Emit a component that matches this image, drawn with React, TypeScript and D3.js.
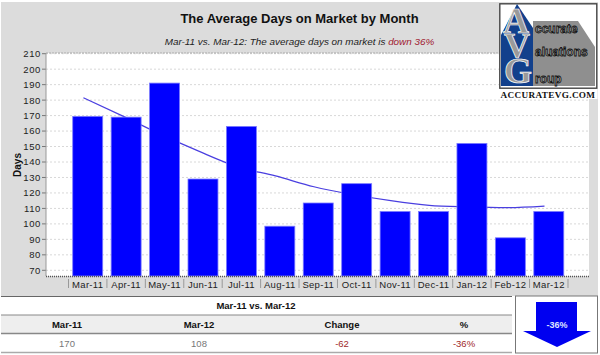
import React from "react";
import * as d3 from "d3";

const months = ["Mar-11","Apr-11","May-11","Jun-11","Jul-11","Aug-11","Sep-11","Oct-11","Nov-11","Dec-11","Jan-12","Feb-12","Mar-12"];
const days = [169.5,169,191,129,163,98.5,113.5,126,108,108,152,91,108];
const trend = [181.5,170,158,147,137,131,124,119,115,112,111,110.5,111.5];
const yTicks = [70,80,90,100,110,120,130,140,150,160,170,180,190,200,210];
const tableHeaders = ["Mar-11","Mar-12","Change","%"];
const tableValues = ["170","108","-62","-36%"];

const SANS = "'Liberation Sans', Arial, sans-serif";
const SERIF = "'Liberation Serif', serif";
const plot = { l: 46, r: 589, t: 53, b: 276 };

export default function App() {
  const x = d3.scaleBand<string>().domain(months).range([68.5, 568]).paddingInner(0.22).paddingOuter(0.11);
  const y = d3.scaleLinear().domain([70, 210]).range([270.3, 53.7]);
  const lineOffset = -4.3;
  const line = d3.line<number>()
    .x((_, i) => x(months[i])! + x.bandwidth() / 2 + lineOffset)
    .y(d => y(d))
    .curve(d3.curveMonotoneX);
  const step = x.step();
  const seps = d3.range(months.length + 1).map(i => 68.5 + i * step);
  const colX = [67, 199, 342, 464];
  const colColor = ["#777", "#777", "#a02828", "#a02828"];

  return (
    <svg width={600} height={355} style={{ position: "fixed", left: 0, top: 0, background: "#fff" }} fontFamily={SANS}>
      <rect x={1} y={2} width={597} height={294} fill="#dcdcdc" />
      <text x={299.5} y={23} textAnchor="middle" fontSize={13} fontWeight="bold" fill="#111">The Average Days on Market by Month</text>
      <text x={299.5} y={44.5} textAnchor="middle" fontSize={9.9} fontStyle="italic" fill="#222">
        Mar-11 vs. Mar-12: The average days on market is <tspan fill="#a02030">down 36%</tspan>
      </text>

      <rect x={plot.l} y={plot.t} width={plot.r - plot.l} height={plot.b - plot.t} fill="#fff" />
      {yTicks.map(t => (
        <g key={t}>
          <line x1={plot.l} x2={plot.r} y1={y(t)} y2={y(t)} stroke="#d8d8d8" strokeWidth={1} strokeDasharray="2 2" />
          <line x1={42} x2={46} y1={y(t)} y2={y(t)} stroke="#777" />
          <text x={41} y={y(t) + 3.4} textAnchor="end" fontSize={9.5} letterSpacing={0.6} fill="#222">{t}</text>
        </g>
      ))}
      <line x1={plot.l} x2={plot.r} y1={plot.t} y2={plot.t} stroke="#aaa" strokeDasharray="2 1" />
      <line x1={plot.l} x2={plot.l} y1={plot.t} y2={plot.b} stroke="#999" />
      <text transform={`translate(21,165) rotate(-90)`} textAnchor="middle" fontSize={10} fontWeight="bold" fill="#111">Days</text>

      <path d={line(trend) ?? ""} fill="none" stroke="#4a3fe0" strokeWidth={1.2} />
      {months.map((m, i) => (
        <rect key={i} x={x(m)} y={y(days[i])} width={x.bandwidth()} height={plot.b - y(days[i])} fill="#0000ff" stroke="#7a7aff" strokeWidth={0.8} />
      ))}
      <line x1={plot.l} x2={plot.r} y1={plot.b + 0.5} y2={plot.b + 0.5} stroke="#555" strokeWidth={1.4} strokeDasharray="1 1" />
      {seps.map((s, i) => <line key={i} x1={s} x2={s} y1={279} y2={288} stroke="#999" />)}
      {months.map(m => (
        <text key={m} x={x(m)! + x.bandwidth() / 2} y={288} textAnchor="middle" fontSize={9.5} letterSpacing={0.3} fill="#222">{m}</text>
      ))}

      <rect x={0} y={296} width={600} height={59} fill="#fff" />
      <rect x={1} y={315} width={511} height={18} fill="#eeeeee" />
      <line x1={1} x2={512} y1={296.5} y2={296.5} stroke="#666" strokeWidth={1} />
      <line x1={1} x2={512} y1={315} y2={315} stroke="#888" strokeWidth={1} />
      <line x1={1} x2={512} y1={333.5} y2={333.5} stroke="#888" strokeWidth={1.4} />
      <line x1={1} x2={512} y1={352.5} y2={352.5} stroke="#aaa" strokeWidth={1.4} />
      <text x={256} y={309} textAnchor="middle" fontSize={9.5} fontWeight="bold" fill="#111">Mar-11 vs. Mar-12</text>
      {tableHeaders.map((h, i) => (
        <text key={h + i} x={colX[i]} y={328} textAnchor="middle" fontSize={9.5} fontWeight="bold" fill="#111">{h}</text>
      ))}
      {tableValues.map((v, i) => (
        <text key={v + i} x={colX[i]} y={347} textAnchor="middle" fontSize={9.5} fill={colColor[i]}>{v}</text>
      ))}

      <rect x={515.5} y={296} width={82} height={57} fill="#fff" stroke="#777" />
      <polygon points="536,302 577,302 577,331 591,331 557,347 523,331 536,331" fill="#0000f0" />
      <text x={557} y={328} textAnchor="middle" fontSize={9} fontWeight="bold" fill="#dfe4ff">-36%</text>

      <rect x={499} y={3} width={98.5} height={96} fill="#fff" />
      <rect x={499.8} y={3.8} width={97} height={84.4} fill="#fff" stroke="#444" strokeWidth={1.4} />
      <polygon points="533,21 578,21 595,47 595,86 533,86" fill="#8f8f8f" />
      <polygon points="501,86 501,35 517,4 533,28 533,86" fill="#12408c" />
      <g fontFamily={SERIF} fontWeight="bold" fill="#9a9a9a" stroke="#fff" strokeWidth={0.7} textAnchor="middle">
        <text x={516} y={33} fontSize={36}>A</text>
        <text x={517} y={58} fontSize={36}>V</text>
        <text x={518} y={83} fontSize={36}>G</text>
      </g>
      <g fontFamily={SANS} fontWeight="bold" fontSize={12} fill="#aaa" stroke="#111" strokeWidth={0.8}>
        <text x={535} y={33}>ccurate</text>
        <text x={535} y={56}>aluations</text>
        <text x={535} y={83}>roup</text>
      </g>
      <text x={548} y={98} textAnchor="middle" fontFamily={SERIF} fontWeight="bold" fontSize={9.2} letterSpacing={0.35} fill="#111">ACCURATEVG.COM</text>
    </svg>
  );
}
